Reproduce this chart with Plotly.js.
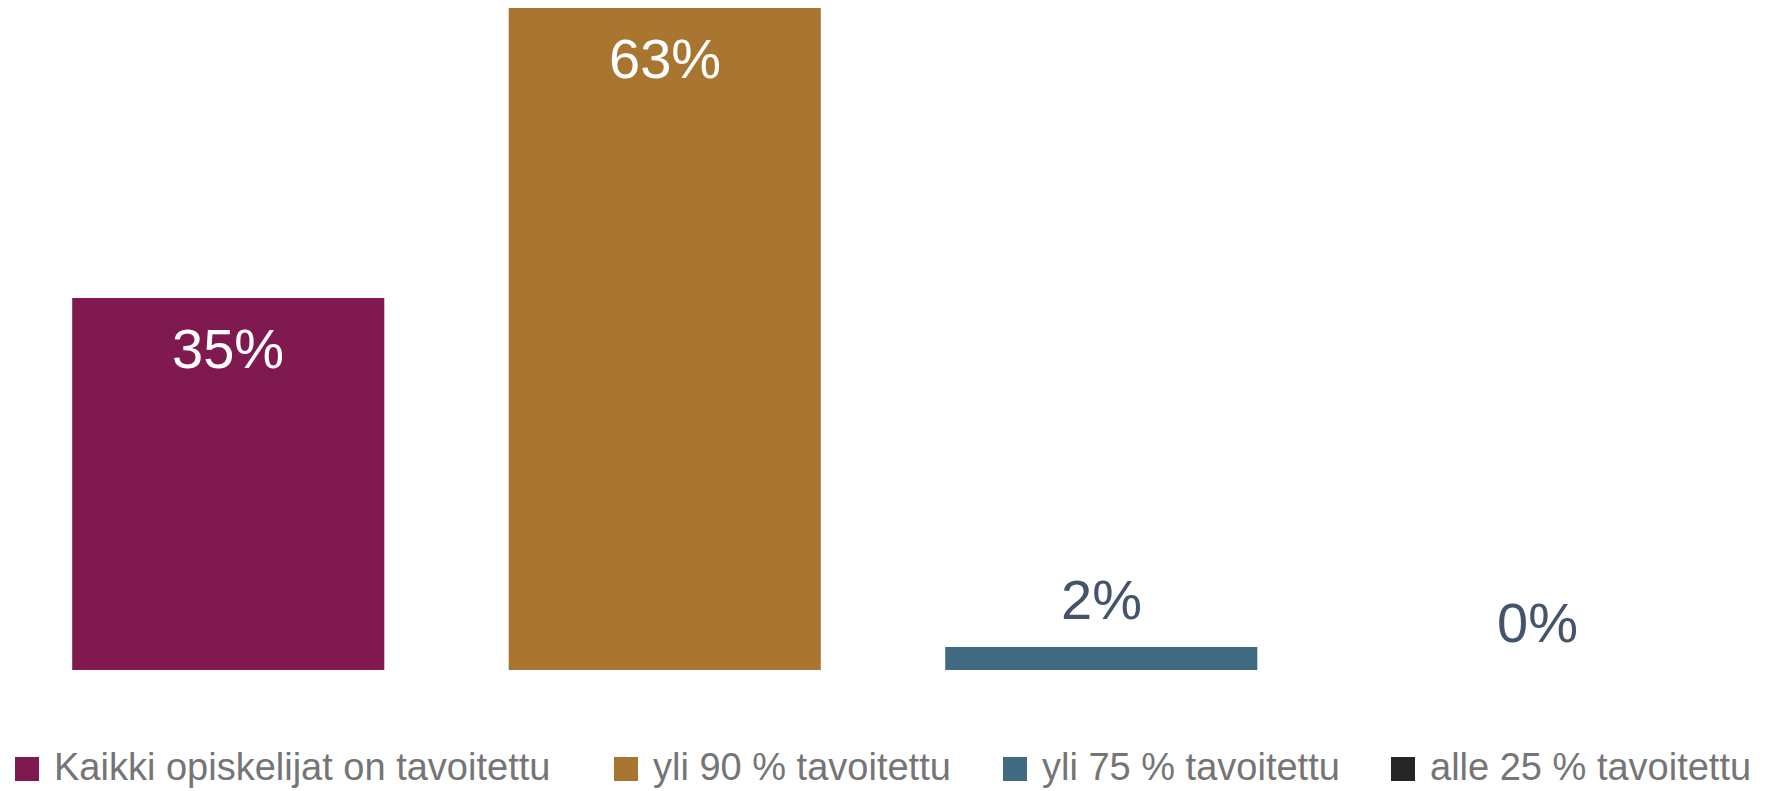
<!DOCTYPE html>
<html>
<head>
<meta charset="utf-8">
<script src="https://cdn.plot.ly/plotly-3.0.1.min.js"></script>
<style>html,body{margin:0;padding:0;background:#fff;}#chart{width:1777px;height:791px;}</style>
</head>
<body>
<div id="chart"></div>
<script>
// ---- data ----
const categories = ["Kaikki opiskelijat on tavoitettu", "yli 90 % tavoitettu", "yli 75 % tavoitettu", "alle 25 % tavoitettu"];
const values = [35.4, 63.0, 2.2, 0];
const colors = ["#7F194F", "#A97631", "#416A82", "#262626"];

// ---- layout geometry (pixels) ----
const W = 1777, H = 791;
const mL = 10, mR = 21, mT = 0, mB = 121;
const plotW = W - mL - mR, plotH = H - mT - mB;
const px2x = p => (p - mL) / plotW;
const px2y = p => (H - mB - p) / plotH;

const legendSquareX = [15, 614, 1003, 1391];
const sq = 24, legendTop = 757, legendMid = 767, textOffset = 37;

const FONT = "Liberation Sans, Arial, sans-serif";

const trace = {
  type: "bar",
  x: categories,
  y: values,
  marker: { color: colors, line: { width: 0 } },
  hoverinfo: "x+y",
  showlegend: false
};

const annotations = [];
values.forEach((v, i) => {
  const inside = v > 10;
  annotations.push({
    x: categories[i], y: v, xref: "x", yref: "y",
    text: Math.round(v) + "%",
    showarrow: false,
    xanchor: "center",
    yanchor: inside ? "top" : "bottom",
    yshift: inside ? -17 : 14,
    font: { family: FONT, size: 56, color: inside ? "#FFFFFF" : "#44546A" }
  });
});

const shapes = [];
categories.forEach((c, i) => {
  shapes.push({
    type: "rect", xref: "paper", yref: "paper",
    x0: px2x(legendSquareX[i]), x1: px2x(legendSquareX[i] + sq),
    y0: px2y(legendTop + sq), y1: px2y(legendTop),
    fillcolor: colors[i], line: { width: 0 }
  });
  annotations.push({
    xref: "paper", yref: "paper",
    x: px2x(legendSquareX[i] + textOffset), y: px2y(legendMid),
    xanchor: "left", yanchor: "middle",
    text: c, showarrow: false,
    font: { family: FONT, size: 38, color: "#757575" }
  });
});

const layout = {
  width: W, height: H,
  margin: { l: mL, r: mR, t: mT, b: mB, pad: 0 },
  paper_bgcolor: "#ffffff",
  plot_bgcolor: "#ffffff",
  bargap: 0.285,
  showlegend: false,
  xaxis: { type: "category", showticklabels: false, showgrid: false, zeroline: false, showline: false, ticks: "" },
  yaxis: { range: [0, 63 * plotH / 662], showticklabels: false, showgrid: false, zeroline: false, showline: false, ticks: "" },
  shapes: shapes,
  annotations: annotations
};

Plotly.newPlot("chart", [trace], layout, { displayModeBar: false, staticPlot: true });
</script>
</body>
</html>
